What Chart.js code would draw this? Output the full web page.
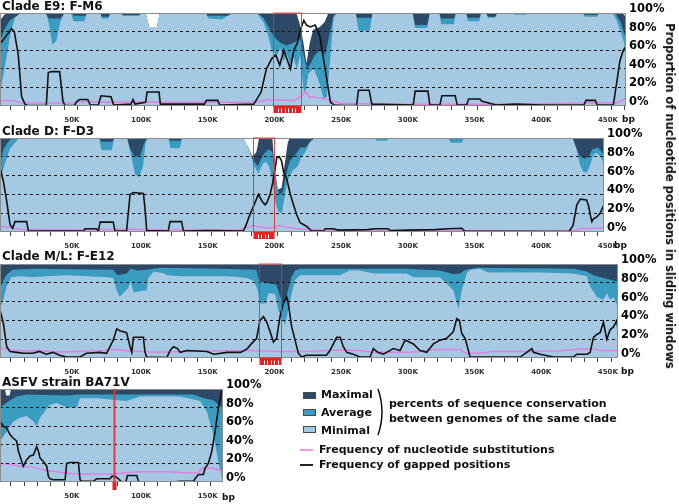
<!DOCTYPE html>
<html>
<head>
<meta charset="utf-8">
<script src="https://cdn.jsdelivr.net/npm/chart.js@4.4.1/dist/chart.umd.min.js"></script>
<style>
  body { margin: 0; background: #fff; font-family: "DejaVu Sans", sans-serif; }
  #fig { position: relative; width: 679px; height: 504px; overflow: hidden; }
  #fig canvas { position: absolute; left: 0; }
  .t { position: absolute; font-weight: bold; white-space: nowrap; color: #111; z-index: 2; }
  .title { font-size: 12px; line-height: 12px; left: 2px; }
  .bp { font-size: 9px; line-height: 9px; }
  .lg { font-size: 11px; line-height: 11px; }
  .sw { position: absolute; width: 11px; height: 5px; border: 1px solid #4a4a4a; z-index: 2; }
  .ln { position: absolute; width: 13px; height: 2px; z-index: 2; }
  #ytitle { font-size: 11.5px; line-height: 12px; left: 670px; top: 196px; transform: translate(-50%, -50%) rotate(90deg); }
</style>
</head>
<body>
<div id="fig">
  <canvas id="e9" width="676" height="125" style="top:3px"></canvas>
  <canvas id="d3" width="654" height="126" style="top:128px"></canvas>
  <canvas id="e12" width="668" height="126" style="top:254px"></canvas>
  <canvas id="ba" width="273" height="125" style="top:379px"></canvas>

  <div class="t title" style="top:0px">Clade E9: F-M6</div>
  <div class="t title" style="top:125px">Clade D: F-D3</div>
  <div class="t title" style="top:250px">Clade M/L: F-E12</div>
  <div class="t title" style="top:376px">ASFV strain BA71V</div>

  <div class="t bp" style="left:622px;top:115px">bp</div>
  <div class="t bp" style="left:614px;top:241px">bp</div>
  <div class="t bp" style="left:621px;top:367px">bp</div>
  <div class="t bp" style="left:222px;top:493px">bp</div>

  <div id="ytitle" class="t">Proportion of nucleotide positions in sliding windows</div>

  <!-- legend -->
  <div class="sw" style="left:303px;top:392px;background:#2c4a68"></div>
  <div class="t lg" style="left:321px;top:389px">Maximal</div>
  <div class="sw" style="left:303px;top:408.5px;background:#3a9cc0"></div>
  <div class="t lg" style="left:321px;top:406.5px">Average</div>
  <div class="sw" style="left:303px;top:426px;background:#a6c9e3"></div>
  <div class="t lg" style="left:321px;top:424.5px">Minimal</div>
  <svg style="position:absolute;left:376px;top:388px;z-index:2" width="10" height="48">
    <path d="M2,1 Q10,24 2,47" stroke="#111" stroke-width="1.5" fill="none"/>
  </svg>
  <div class="t lg" style="left:389px;top:398px">percents of sequence conservation</div>
  <div class="t lg" style="left:389px;top:413px">between genomes of the same clade</div>
  <div class="ln" style="left:300px;top:448.5px;background:#e89ae8"></div>
  <div class="t lg" style="left:319px;top:443.5px">Frequency of nucleotide substitutions</div>
  <div class="ln" style="left:300px;top:463.5px;background:#222"></div>
  <div class="t lg" style="left:319px;top:458.5px">Frequency of gapped positions</div>
</div>

<script>
/* sliding-window conservation per clade, x in kb, y in % */
const X_MIN = 1.8;
const X_TICKS = [10,20,30,40,50,60,70,80,90,100,110,120,130,140,150,160,170,180,190,200,210,220,230,240,
  250,260,270,280,290,300,310,320,330,340,350,360,370,380,390,400,410,420,430,440,450,460,470];
const Y_TICKS = [0, 20, 40, 60, 80, 100];

const MAX_COLOR = '#2c4a68', AVG_COLOR = '#3a9cc0', MIN_COLOR = '#a6c9e3';
const SUB_COLOR = '#e07fe4', GAP_COLOR = '#111';

// ---- Clade E9: F-M6
const E9_END = 471;
const E9_WINDOW = [206.4, 227.4];
const E9_MAX = [[1.8,92],[5,98],[8,100],[111,100],[113.5,85],[119.5,85],[121.5,100],[224,100],[226.5,88],[229,70],
  [231.5,46],[234,68],[236.5,82],[241.5,85],[245,90],[248,100],[468,100],[471,96]];
const E9_AVG = [[1.8,70],[5,82],[9,92],[13,96],[18,97],[22,100],[36,100],[38.5,94],[47,94],[50,100],[56,100],[57,97],
  [66,97],[67,100],[77,100],[78,96],[84,96],[85,100],[92,100],[94,97.5],[106,97.5],[108,100],[111,100],[113.5,85],
  [119.5,85],[121.5,100],[156,100],[157,97],[175,97],[176.5,100],[194.3,100],[199.3,95],[203,85],[206.8,75],
  [211.8,68],[216.8,65],[221.8,68],[226.8,72],[229.3,55],[231.8,40],[234.3,45],[238,55],[241.8,60],[245.5,55],
  [249.3,80],[251.8,97],[254.3,100],[268,100],[269,95],[280.5,95],[281.5,100],[311,100],[313,87],[322,87],[324,100],
  [331,100],[332.5,94],[342,94],[343.5,100],[351,100],[352.5,95],[361,95],[362.5,100],[366,100],[367.5,96],[373,96],
  [374.5,100],[438.5,100],[440,98],[449.5,98],[451,100],[463,100],[467,90],[471,72]];
const E9_MIN = [[1.8,15],[4,30],[7,55],[10,80],[13,95],[17,100],[36,100],[38,92],[41,66],[44,70],[47,90],[50,100],
  [55,100],[57,91],[65,91],[67,100],[77,100],[78,94],[83,94],[84.5,100],[92,100],[94,97],[106,97],[108,100],[111,100],
  [113.5,85],[119.5,85],[121.5,100],[156,100],[158,94],[168,93],[176,100],[194.3,100],[199.3,90],[203,75],[205.5,60],
  [209.3,55],[211.8,62],[214.3,48],[216.8,56],[219.3,45],[221.8,52],[224.3,40],[226.8,55],[229.3,18],[230.5,12],
  [233,35],[236.8,40],[239.3,32],[241.8,22],[244.3,8],[246.8,10],[249.3,50],[251.8,95],[254.3,100],[268.5,100],
  [270.5,81],[279,81],[281,100],[311,100],[313,84],[322,84],[324,100],[331,100],[332.5,88],[342,88],[343.5,100],
  [351,100],[352.5,91],[361,91],[362.5,100],[366,100],[367.5,95],[373,95],[374.5,100],[386,100],[387.5,98],[396,98],
  [397.5,100],[438.5,100],[440,96],[449.5,96],[451,100],[461,100],[464,92],[467,80],[469.5,68],[471,55]];
const E9_GAP = [[1.8,67],[6.3,75],[10.5,83],[12.5,80],[15.5,55],[18,10],[20.5,2],[22.5,0.5],[36.5,0.5],[38,36],
  [40.5,37],[46.5,37],[49,5],[50.5,0.5],[57.5,0.5],[59.5,5],[61.5,7],[67.5,7],[69.5,1],[75.5,1],[77.5,11],[85,10],
  [87,1],[100,2],[101.5,7],[103,2],[111,4],[112,15],[121,15],[122,2],[155,2],[156.5,6],[165,6],[166.5,1],[192,2],
  [197.5,15],[201.5,40],[205.5,51],[208.5,55],[211.5,44],[214.5,60],[217,50],[219.5,40],[222,60],[224.5,67],
  [226.5,80],[229.5,92],[231.5,87],[234.5,85],[238,87],[241.5,75],[246.5,31],[249.5,4],[252.5,1],[259.5,0.5],
  [269,0.5],[270.5,17],[278.5,17],[280.5,2],[311.5,1],[313,16],[322.5,16],[324,1],[331.5,1],[333,11],[343,11],
  [344.5,1],[351.5,1],[353,7.5],[361.5,7.5],[363,5],[366,4],[374,1],[388,2],[408,1],[439.5,1],[441,6],[448,6],
  [449.5,1],[461.5,1],[464,25],[466.5,49],[469,60],[471,64]];
const E9_SUB = [[1.8,6],[11.5,6],[16.5,3.5],[36.5,3],[56.5,3.5],[66.5,5],[77,4],[107,4.5],[127,4],[157,4],[187,4],
  [197.5,5],[203.5,7],[212.5,6.5],[222.5,6],[227.5,10],[230.5,16],[233.5,10],[239.5,9],[247.5,7],[257.5,3],[288,2],
  [328,2],[368,2],[408,2.5],[428.5,3],[448.5,3.5],[463.5,3.5],[468.5,6],[471,9]];

// ---- Clade D: F-D3
const D3_END = 454.6;
const D3_WINDOW = [191.5, 207.2];
const D3_MAX = [[1.8,100],[183,100],[187,92],[191,80],[194,85],[196,100],[206,100],[207.5,70],[210,45],[213,47],
  [215,70],[217.5,95],[219,100],[454.6,100]];
const D3_AVG = [[1.8,75],[5,90],[9,98],[12,100],[76,100],[78,96],[86,96],[87.5,100],[97,100],[99.5,88],[103,80],
  [107,82],[110,95],[112,100],[128,100],[129.5,97],[137,97],[138.5,100],[184,100],[188,90],[191,78],[195,70],[199,82],
  [203,88],[206,85],[208,60],[211,40],[214,42],[216,60],[219,75],[223,82],[227,90],[231,90],[235,98],[239,100],
  [431,100],[433,92],[436,82],[440,78],[443,80],[446,88],[450,90],[453,85],[454.6,80]];
const D3_MIN = [[1.8,55],[6,75],[9,88],[13,95],[16,100],[76,100],[78,87],[85.5,87],[87.5,100],[97,100],[99.5,85],
  [103,62],[106,58],[109,70],[111,95],[113,100],[128,100],[129.5,89],[136.5,89],[138.5,100],[185,100],[189,85],
  [192.5,70],[195.5,62],[198.5,72],[201,75],[203.5,70],[206,55],[208.5,30],[210.5,22],[213,20],[215.5,40],[217.5,55],
  [221,65],[225,70],[228,80],[231,86],[234,95],[238,100],[283,100],[284,97],[292,97],[293,100],[338,100],[339.5,95],
  [348,95],[349.5,100],[431,100],[434,88],[436.5,72],[439,64],[441.5,63],[444,70],[446.5,82],[449,84],[452,80],[454.6,72]];
const D3_GAP = [[1.8,68],[4.3,54],[6.8,33],[9.3,8],[11.3,4],[13,11],[21.8,11],[23.1,1],[64.3,1],[65.6,3.5],[74.2,3.5],
  [75.6,1],[76.8,10.5],[86.7,10.5],[88,1],[96.7,1],[99.3,40],[101.8,42],[109.3,41],[110.5,25],[111.8,1.5],[127.9,1],
  [129.3,11],[137.9,11],[139.3,1],[157,1.5],[184.2,1],[186.2,7],[188.2,15],[191.7,27],[195.5,40],[198.1,33],[200.5,29],
  [201.8,31],[204.3,40],[206.8,56],[209.3,79],[211.3,80],[213,75],[214.3,64],[216.7,57],[219.3,41],[221.8,29],
  [224.3,18],[226.8,10],[229.2,8],[231.7,6],[235.4,1],[244.5,1],[245.5,3.5],[251.5,3.5],[255.5,2],[277.6,2.5],
  [282.7,3.5],[292.7,3.5],[294.7,1.5],[307.8,2],[327.9,2.5],[337.9,3.5],[348,4],[350,1],[428.4,0.5],[431.4,7],
  [434.2,29],[436.8,35],[441.5,34],[443,28],[444.5,17],[445.5,11],[446.7,14],[449.2,16],[451.7,20],[454.6,29]];
const D3_SUB = [[1.8,6],[9.3,5],[16.3,3],[36.5,2.5],[66.6,2],[96.8,3],[126.9,2],[157,2],[182.2,2.5],[191.2,7],
  [197.3,5],[203.3,4],[211.3,7],[217.3,5],[227.4,3],[257.5,1.5],[307.8,1],[358,1.5],[408.3,1],[433.4,1.5],
  [436.4,3.5],[454.6,4.5]];

// ---- Clade M/L: F-E12
const E12_END = 465.1;
const E12_WINDOW = [196, 212.4];
const E12_MAX = [[1.8,100],[465.1,100]];
const E12_AVG = [[1.8,75],[6.3,88],[11.3,94],[26.4,95],[86.7,94],[89.7,88],[96.8,90],[99.8,95],[104.8,93],[111.8,94],
  [122,96],[167,95],[194,94],[196,82],[200,80],[205,79],[209,78],[212,65],[214.5,58],[217,68],[220,85],[223,93],
  [227,95],[306.7,95],[331.7,93],[341.7,89],[346.7,90],[351,94],[360,96],[431.7,95],[441.7,92],[446.7,88],[454.2,85],
  [460,83],[465.1,81]];
const E12_MIN = [[1.8,53],[4.3,62],[6.8,76],[10.3,86],[16.3,87],[26.4,86],[36.5,87],[51.5,88],[66.6,87],[81.7,86],
  [86.7,85],[89.7,70],[91.7,65],[94.7,70],[97.8,74],[99.8,82],[101.8,70],[106.8,71],[111.8,72],[113,85],[117,92],
  [125,90],[127,88],[137,87],[157,87],[172,87],[187,85],[192,82],[195,72],[197,58],[201,58],[203,69],[208,68],
  [210.5,50],[213,44],[215.5,35],[218,51],[220.5,69],[223,83],[227,88],[256.7,88],[264.2,93],[271.7,93],[275,92],
  [281.7,90],[306.7,90],[311.7,86],[331.7,86],[336.7,79],[341.7,72],[345.5,52],[348,72],[351.7,90],[354.2,94],
  [361.7,95],[368,91],[406.7,91],[431.7,90],[441.7,87],[444.2,76],[449.2,65],[454.2,62],[456.7,69],[459.2,62],
  [461.7,65],[465.1,54]];
const E12_GAP = [[1.8,51],[4.3,37],[6.8,12],[9.3,7],[14.3,6],[19.4,5],[26.4,5],[31.4,7],[36.5,4],[41.5,6],[46.5,3],
  [51.5,1],[61.6,1],[66.6,5],[76.7,6],[81.7,5],[86.7,19],[89.3,31],[91.7,29],[96.7,27],[99.3,12],[100.6,6],[101.8,22],
  [109.3,22],[110.5,6],[111.8,1],[126.9,0.5],[129.3,8],[131.9,12],[134.9,10],[136.9,6],[142,8],[157,7],[162,4],
  [172.1,6],[182.2,6],[187.2,10],[190.2,15],[194.2,21],[196.7,40],[199.3,44],[201.8,38],[204.3,28],[206.8,17],
  [209.2,21],[211.7,44],[214.2,58],[216.7,65],[217.9,58],[220.5,33],[223,19],[225.5,5],[228,1],[231.4,3],[246.5,3],
  [249.2,8],[254.2,22],[256.7,22],[259.2,12],[261.7,6],[266.7,4],[271.7,1],[279.2,1],[281.7,10],[285,6],[289.2,4],
  [296.7,10],[301.7,8],[305.5,19],[311.7,15],[316.7,8],[321.7,6],[326.7,15],[331.7,19],[336.7,21],[341.7,28],
  [344.2,42],[346.2,40],[348,26],[350.5,21],[354.2,1],[391.7,1],[396.7,6],[400.5,10],[401.7,6],[406.7,4],[416.7,1],
  [431.7,1],[434.2,4],[441.7,4],[444.2,6],[446.7,22],[449.2,25],[451.7,27],[454.2,38],[456.7,20],[459.2,30],
  [461.7,33],[464.2,40],[465.1,30]];
const E12_SUB = [[1.8,11],[9,8.5],[20,7.5],[30,8],[45,6.5],[60,7],[80,8],[88,9],[100,7.5],[120,6],[140,7],[160,7.5],
  [190,8],[210,7],[230,7],[256.7,8.5],[271.7,8],[281.7,6],[306.7,6],[316.7,7],[326.7,9],[346.7,9],[351,5],[361.7,5],
  [370,7],[396.7,7],[420,7.5],[436.7,9.5],[446.7,9.5],[452,8],[465.1,8]];

// ---- ASFV strain BA71V
const BA_END = 169;
const BA_WINDOW = [87.3, 87.3];
const BA_MAX = [[1.8,100],[5.5,100],[6.5,93],[9,93],[10,100],[169,100]];
const BA_AVG = [[1.8,80],[9.3,88],[14.3,92],[21.8,94],[51.8,93],[61.8,94],[106.8,94],[146.8,94],[154.8,90],
  [161.8,88],[166.8,82],[169,80]];
const BA_MIN = [[1.8,44],[6.8,54],[11.8,65],[16.8,69],[21.8,71],[26.8,65],[29.3,60],[31.8,69],[35.5,76],[39.3,83],
  [44.3,85],[51.8,80],[59.3,80],[61.8,90],[74.3,90],[96.8,87],[106.8,92],[136.8,92],[151.8,87],[156.8,76],
  [161.8,51],[165.6,22],[168.1,4],[169,1]];
const BA_GAP = [[1.8,65],[4.3,60],[6.8,58],[9.3,51],[11.8,47],[14.3,44],[15.6,33],[16.8,28],[18.1,22],[19.3,17],
  [21.8,24],[24.3,28],[26.8,29],[29.3,38],[30.6,33],[31.8,26],[34.3,22],[36.8,17],[38.1,6],[39.3,3.5],[41.8,2.5],
  [50.6,2.5],[51.8,20],[54.3,21],[60.6,21],[61.8,2.5],[63.1,0.7],[71.8,0.7],[74.3,3.5],[84.3,3.5],[85.6,6],[88.1,6],
  [90.6,3.5],[93.1,0],[96.3,0.5],[97.3,7],[104.3,7],[105.6,1],[106.8,0],[131.8,0],[136.8,0.7],[146.8,0.7],[148,3.5],
  [150.6,8],[154.3,8],[155.6,15],[158,20],[160.6,33],[163,54],[165.6,80],[168.1,99],[169,100]];
const BA_SUB = [[1.8,20],[9.3,19],[16.8,17],[26.8,16],[34.3,13],[41.8,11.5],[51.8,9.5],[61.8,8.5],[86.8,8.5],
  [96.8,10],[106.8,11],[126.8,11],[141.8,10],[150,10],[154,15],[162,14.5],[166.8,13],[169,8]];

Chart.defaults.font.family = 'DejaVu Sans';

function toPoints(rows){ return rows.map(r => ({x: r[0], y: r[1]})); }

// red box around the compared region + grey frame of the plot
const windowPlugin = {
  id: 'cladeWindow',
  afterDraw(chart, args, opts){
    const {ctx, chartArea: a} = chart;
    const xs = chart.scales.x;
    ctx.save();
    ctx.strokeStyle = '#8c8c8c';
    ctx.lineWidth = 1;
    ctx.strokeRect(a.left + 0.5, a.top + 0.5, a.right - a.left - 1, a.bottom - a.top - 1);
    const w = opts.window;
    if (w) {
      const x1 = Math.round(xs.getPixelForValue(w[0])) + 0.5;
      const x2 = Math.round(xs.getPixelForValue(w[1])) + 0.5;
      ctx.strokeStyle = 'rgba(232,45,45,0.9)';
      ctx.fillStyle = '#e82020';
      if (x2 - x1 < 2) {
        ctx.lineWidth = 2;
        ctx.beginPath(); ctx.moveTo(x1, a.top); ctx.lineTo(x1, a.bottom); ctx.stroke();
        ctx.fillRect(x1 - 2, a.bottom, 4, 8);
      } else {
        ctx.lineWidth = 1;
        ctx.strokeRect(x1, a.top, x2 - x1, a.bottom - a.top);
        ctx.fillRect(x1, a.bottom, x2 - x1, 7);
        ctx.fillStyle = '#fff';
        for (let px = x1 + 4; px < x2 - 3; px += 3.5) ctx.fillRect(Math.round(px), a.bottom + 2.5, 1, 4);
      }
    }
    ctx.restore();
  }
};

function drawPanel(id, end, rows, win){
  new Chart(document.getElementById(id), {
    type: 'line',
    data: {
      datasets: [
        {data: toPoints(rows.gap), borderColor: GAP_COLOR, borderWidth: 1.6, fill: false},
        {data: toPoints(rows.sub), borderColor: SUB_COLOR, borderWidth: 1.5, fill: false},
        {data: toPoints(rows.min), borderWidth: 0, borderColor: 'rgba(0,0,0,0)', backgroundColor: MIN_COLOR, fill: 'origin'},
        {data: toPoints(rows.avg), borderWidth: 0, borderColor: 'rgba(0,0,0,0)', backgroundColor: AVG_COLOR, fill: 'origin'},
        {data: toPoints(rows.max), borderWidth: 0, borderColor: 'rgba(0,0,0,0)', backgroundColor: MAX_COLOR, fill: 'origin'}
      ]
    },
    options: {
      responsive: false, animation: false, devicePixelRatio: 1,
      layout: {padding: {top: 10, left: 0, right: 0, bottom: 0}},
      elements: {point: {radius: 0}, line: {tension: 0}},
      plugins: {legend: {display: false}, tooltip: {enabled: false}, cladeWindow: {window: win}},
      scales: {
        x: {
          type: 'linear', min: X_MIN, max: end,
          afterBuildTicks: s => { s.ticks = X_TICKS.filter(v => v <= s.max).map(v => ({value: v})); },
          afterFit: s => { s.height = 22; },
          grid: {drawOnChartArea: false, drawTicks: true, tickLength: 4, color: '#444'},
          border: {display: false},
          ticks: {autoSkip: false, maxRotation: 0, align: 'start', padding: 6, color: '#333',
                  font: {size: 7, weight: 'bold'}, callback: v => v % 50 === 0 ? v + 'K' : ''}
        },
        y: {
          position: 'right', min: 0, max: 100,
          afterBuildTicks: s => { s.ticks = Y_TICKS.map(v => ({value: v})); },
          afterFit: s => { s.width = 50; },
          grid: {z: 1, drawTicks: false, lineWidth: 1,
                 color: c => (c.tick && c.tick.value > 0 && c.tick.value < 100) ? '#1a1a1a' : 'rgba(0,0,0,0)'},
          border: {display: false, dash: [3, 3]},
          ticks: {padding: 3, labelOffset: -4, color: '#000', font: {size: 11.5, weight: 'bold'},
                  callback: v => v + '%'}
        }
      }
    },
    plugins: [windowPlugin]
  });
}

drawPanel('e9', E9_END, {gap: E9_GAP, sub: E9_SUB, min: E9_MIN, avg: E9_AVG, max: E9_MAX}, E9_WINDOW);
drawPanel('d3', D3_END, {gap: D3_GAP, sub: D3_SUB, min: D3_MIN, avg: D3_AVG, max: D3_MAX}, D3_WINDOW);
drawPanel('e12', E12_END, {gap: E12_GAP, sub: E12_SUB, min: E12_MIN, avg: E12_AVG, max: E12_MAX}, E12_WINDOW);
drawPanel('ba', BA_END, {gap: BA_GAP, sub: BA_SUB, min: BA_MIN, avg: BA_AVG, max: BA_MAX}, BA_WINDOW);
</script>
</body>
</html>
